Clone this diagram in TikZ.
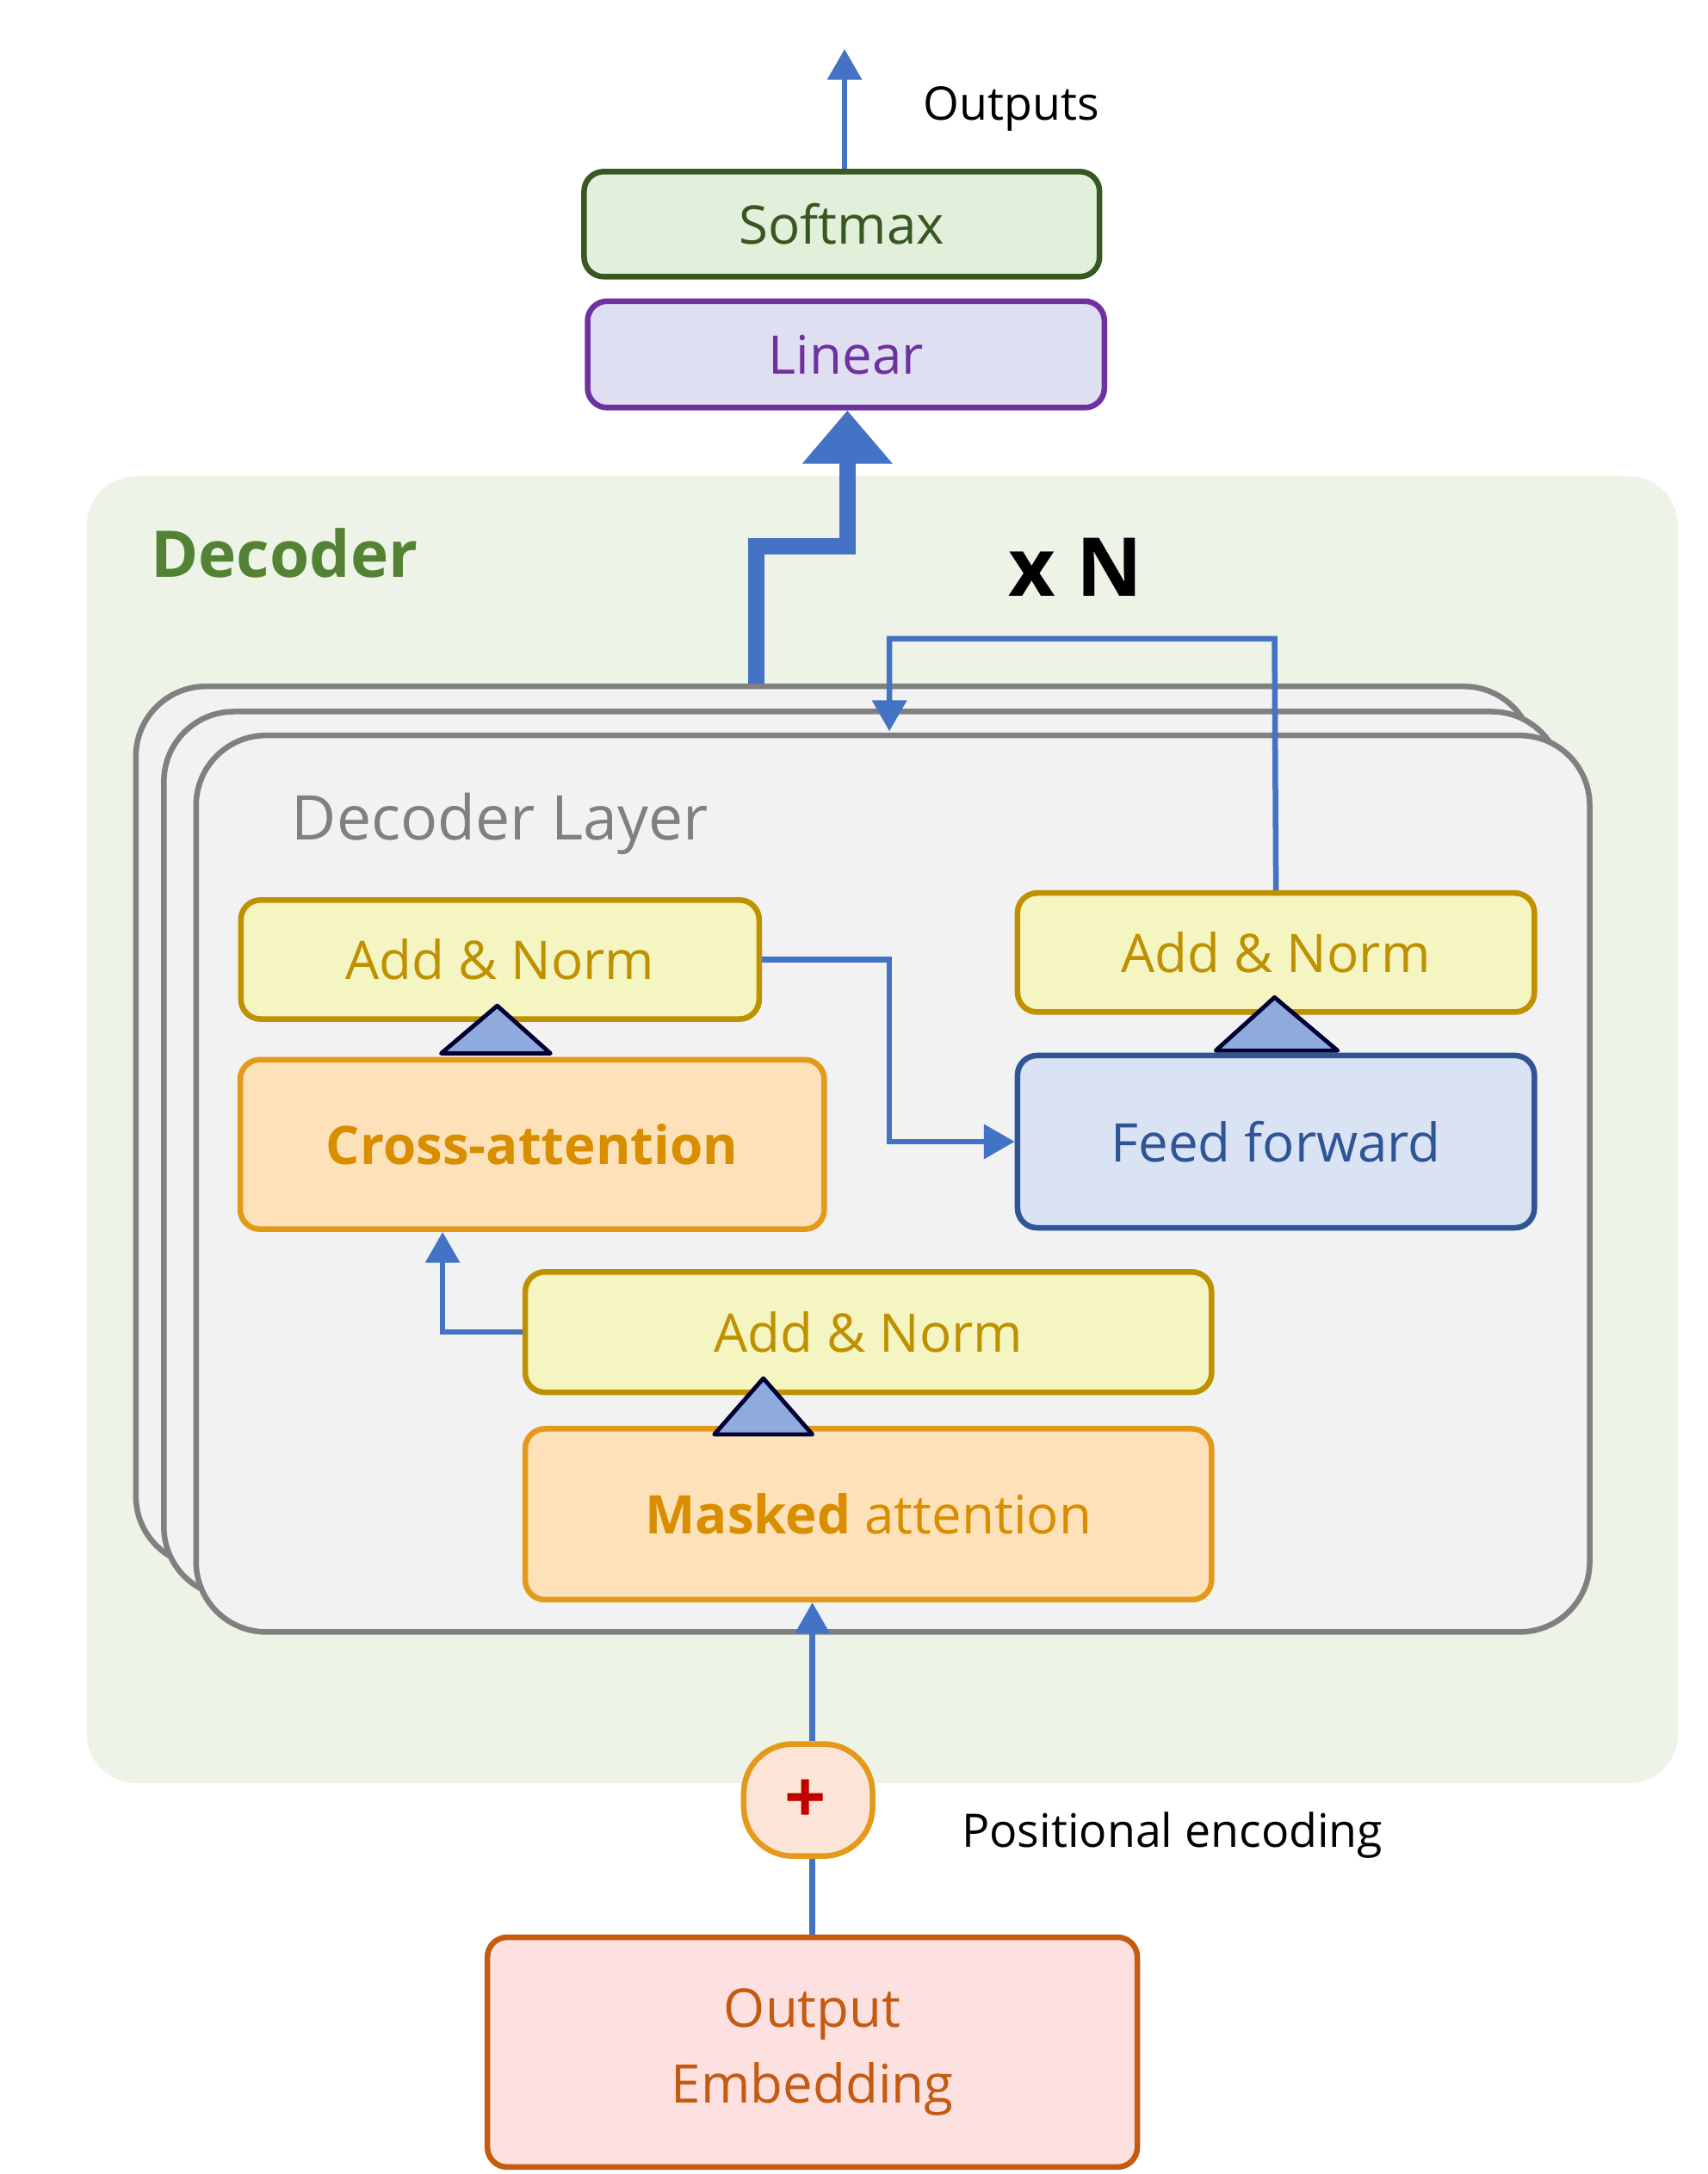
\documentclass[tikz,border=0pt]{standalone}
\usepackage{fontspec}
\setmainfont{Open Sans}
\usetikzlibrary{arrows.meta}
\definecolor{arr}{HTML}{4472C4}
\definecolor{yfill}{HTML}{F5F5C2}
\definecolor{yline}{HTML}{BF9000}
\definecolor{ofill}{HTML}{FDE1B8}
\definecolor{oline}{HTML}{E39A1A}
\definecolor{otext}{HTML}{D98E00}
\definecolor{bfill}{HTML}{DAE3F3}
\definecolor{bline}{HTML}{2F5597}
\definecolor{tri}{HTML}{8FAADC}
\definecolor{decg}{HTML}{548235}
\definecolor{decbg}{HTML}{EDF3E6}
\definecolor{sfill}{HTML}{E2EFDA}
\definecolor{sline}{HTML}{385723}
\definecolor{lfill}{HTML}{DEE0F2}
\definecolor{lline}{HTML}{7030A0}
\definecolor{efill}{HTML}{FDE0E0}
\definecolor{eline}{HTML}{C55A11}
\definecolor{pfill}{HTML}{FCE4D6}
\begin{document}
\begin{tikzpicture}[x=1pt,y=-1pt,
 box/.style={draw,line width=4pt,rounded corners=14pt,inner sep=0pt},
 addn/.style={box,fill=yfill,draw=yline,text=yline,font=\fontsize{38}{44}\selectfont},
 att/.style={box,fill=ofill,draw=oline,text=otext,font=\fontsize{38}{44}\selectfont},
 con/.style={draw=arr,line width=4pt,-{Triangle[length=22pt,width=24pt]}},
 line/.style={draw=arr,line width=4pt},
 tr/.style={fill=tri,draw=black!80!blue,line width=3pt,line join=round},
 layer/.style={draw=gray,line width=4pt,rounded corners=50pt}]
\useasboundingbox (0,0) rectangle (1219,1552);
% decoder region
\fill[decbg, rounded corners=35pt] (62,340) rectangle (1198,1273);
\node[text=decg,font=\bfseries\fontsize{46}{52}\selectfont] (dec) at (203,395) {Decoder};
% layers
\draw[layer,fill=gray!10] (97,490) rectangle (1095,1118);
\draw[layer,fill=gray!10] (117,508) rectangle (1115,1140);
\draw[layer,fill=gray!10] (140,525) rectangle (1135,1165);
\node[text=gray,font=\fontsize{44}{50}\selectfont] (dl) at (357,588) {Decoder Layer};
\node[font=\bfseries\fontsize{58}{64}\selectfont] (xn) at (768,405) {x N};
% top boxes
\node[box,fill=sfill,draw=sline,text=sline,minimum width=368pt,minimum height=75pt,font=\fontsize{38}{44}\selectfont] (soft) at (601,160) {Softmax};
\node[box,fill=lfill,draw=lline,text=lline,minimum width=369pt,minimum height=76pt,font=\fontsize{38}{44}\selectfont] (lin) at (604,253) {Linear};
\coordinate (outtip) at (603,35);
\draw[con] (soft.north -| outtip) -- (outtip);
\node[font=\fontsize{33}{40}\selectfont] (outs) at (722,78) {Outputs};
% boxes
\node[addn,minimum width=370pt,minimum height=85pt] (an1) at (357,685) {Add \& Norm};
\node[att,minimum width=417pt,minimum height=121pt,font=\bfseries\fontsize{38}{44}\selectfont] (ca) at (380,817) {Cross-attention};
\node[addn,minimum width=369pt,minimum height=85pt] (an2) at (911,680) {Add \& Norm};
\node[box,fill=bfill,draw=bline,text=bline,minimum width=369pt,minimum height=123pt,font=\fontsize{38}{44}\selectfont] (ff) at (911,815) {Feed forward};
\node[addn,minimum width=490pt,minimum height=86pt] (an3) at (620,951) {Add \& Norm};
\node[att,minimum width=490pt,minimum height=122pt] (ma) at (620,1081) {\textbf{Masked} attention};
% triangles
\draw[tr] (315,752) -- (355,718) -- (393,752) -- cycle;
\draw[tr] (868,750) -- (910,712) -- (955,750) -- cycle;
\draw[tr] (510,1024) -- (545,984) -- (580,1024) -- cycle;
% thick arrow
\coordinate (tk) at (540,488);
\draw[draw=arr,line width=12pt,-{Triangle[length=38pt,width=62pt]}] (tk) -- (540,390) -- (605,390) -- (lin.south -| 605,0);
% loop
\coordinate (lp) at (635,522);
\draw[con] (an2.north) -- (910,456) -- (635,456) -- (lp);
\draw[con] (an1.east) -- (635,685) -- (635,815) -- (ff.west);
\draw[con] (an3.west) -- (316,951) -- (ca.south -| 316,0);
% positional encoding
\node[draw=oline,fill=pfill,line width=4pt,minimum width=92pt,minimum height=80pt,rounded corners=35pt,inner sep=0pt] (pe) at (577,1285) {};
\node[text=red!75!black,font=\bfseries\fontsize{52}{56}\selectfont] (plus) at (575,1286) {+};
\node[font=\fontsize{33}{40}\selectfont] (pet) at (837,1310) {Positional encoding};
\draw[con] (pe.north -| 580,0) -- (ma.south -| 580,0);
\node[box,fill=efill,draw=eline,text=eline,minimum width=464pt,minimum height=164pt,align=center,font=\fontsize{38}{54}\selectfont] (oe) at (580,1465) {Output\\Embedding};
\draw[line] (oe.north -| 580,0) -- (pe.south -| 580,0);
\end{tikzpicture}
\end{document}
